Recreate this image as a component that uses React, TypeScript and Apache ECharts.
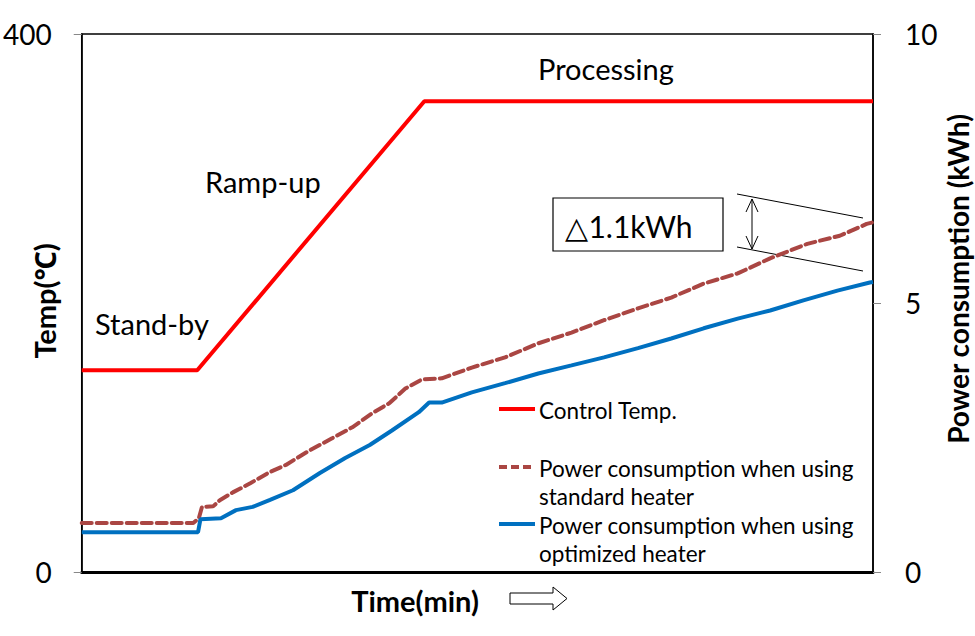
import React, { useEffect, useRef } from "react";
import * as echarts from "echarts";

// Control temperature (°C) vs time (arbitrary minutes, 0..100)
const tempTime = [0, 14.6, 43.3, 100];
const tempValues = [150, 150, 350, 350];

// Power consumption, standard heater (kWh)
const stdTime = [0, 14.1, 14.8, 15.2, 16.6, 17.5, 19.1, 21.3, 23.8, 25.8, 28.8, 31.7, 34.2, 36.7, 38.9, 40.9, 43.0, 45.5, 49.3, 53.5, 57.7, 61.9, 66.0, 70.3, 74.5, 78.6, 82.9, 87.0, 91.7, 95.8, 99.2, 100];
const stdPower = [0.91, 0.91, 1.0, 1.21, 1.22, 1.34, 1.48, 1.65, 1.86, 1.99, 2.26, 2.49, 2.69, 2.95, 3.14, 3.41, 3.58, 3.6, 3.8, 3.99, 4.25, 4.45, 4.68, 4.9, 5.1, 5.36, 5.55, 5.83, 6.1, 6.25, 6.47, 6.5];

// Power consumption, optimized heater (kWh)
const optTime = [0, 14.7, 15.0, 17.6, 19.5, 21.6, 23.8, 26.7, 30.1, 33.3, 36.4, 39.2, 42.6, 43.9, 45.5, 49.3, 53.5, 57.7, 61.9, 66.0, 70.3, 74.5, 78.6, 82.9, 87.0, 91.2, 95.5, 99.6, 100];
const optPower = [0.74, 0.74, 0.98, 1.0, 1.15, 1.21, 1.34, 1.52, 1.84, 2.12, 2.36, 2.63, 2.97, 3.15, 3.15, 3.34, 3.51, 3.69, 3.84, 3.99, 4.16, 4.34, 4.53, 4.71, 4.86, 5.05, 5.23, 5.38, 5.39];

const leftTicks = { min: 0, max: 400, interval: 400 };
const rightTicks = { min: 0, max: 10, interval: 5 };

const seriesNames = [
  "Control Temp.",
  "Power consumption when using\nstandard heater",
  "Power consumption when using\noptimized heater",
];
const phaseLabels = ["Stand-by", "Ramp-up", "Processing"];
const deltaLabel = "△1.1kWh";

const FONT = "Lato, 'Noto Sans', sans-serif";
const RED = "#FF0000";
const BROWN = "#AA4643";
const BLUE = "#0070C0";

function pairs(xs: number[], ys: number[]) {
  return xs.map((x, i) => [x, ys[i]]);
}

export default function App() {
  const ref = useRef<HTMLDivElement>(null);
  useEffect(() => {
    if (!ref.current) return;
    const chart = echarts.init(ref.current, undefined, { renderer: "svg" });
    const axisTick = { show: true, length: 8, lineStyle: { color: "#888", width: 1 } };
    const option: any = {
      animation: false,
      backgroundColor: "#fff",
      textStyle: { fontFamily: FONT },
      grid: {
        left: 79,
        right: 102,
        top: 34,
        bottom: 64,
        show: true,
        borderColor: "#000",
        borderWidth: 1.5,
      },
      xAxis: {
        type: "value",
        min: 0,
        max: 100,
        axisLine: { show: true, lineStyle: { color: "#000", width: 3 } },
        axisTick: { show: false },
        axisLabel: { show: false },
        splitLine: { show: false },
      },
      yAxis: [
        {
          type: "value",
          position: "left",
          ...leftTicks,
          axisLine: { show: true, lineStyle: { color: "#000", width: 1.5 } },
          axisTick,
          axisLabel: { fontSize: 28, color: "#000", margin: 30, fontFamily: FONT },
          splitLine: { show: false },
        },
        {
          type: "value",
          position: "right",
          ...rightTicks,
          axisLine: { show: true, lineStyle: { color: "#000", width: 1.5 } },
          axisTick,
          axisLabel: { fontSize: 28, color: "#000", margin: 32, fontFamily: FONT },
          splitLine: { show: false },
        },
      ],
      series: [
        {
          name: seriesNames[0],
          type: "line",
          yAxisIndex: 0,
          data: pairs(tempTime, tempValues),
          showSymbol: false,
          lineStyle: { color: RED, width: 4 },
        },
        {
          name: seriesNames[1],
          type: "line",
          yAxisIndex: 1,
          data: pairs(stdTime, stdPower),
          showSymbol: false,
          lineStyle: { color: BROWN, width: 4, type: [10, 5], cap: "round" },
        },
        {
          name: seriesNames[2],
          type: "line",
          yAxisIndex: 1,
          data: pairs(optTime, optPower),
          showSymbol: false,
          lineStyle: { color: BLUE, width: 4 },
        },
      ],
      graphic: [
        // phase labels
        { type: "text", x: 95, y: 323, style: { text: phaseLabels[0], font: `29px ${FONT}`, fill: "#000", textVerticalAlign: "middle" } },
        { type: "text", x: 205, y: 181, style: { text: phaseLabels[1], font: `29px ${FONT}`, fill: "#000", textVerticalAlign: "middle" } },
        { type: "text", x: 538, y: 68, style: { text: phaseLabels[2], font: `29px ${FONT}`, fill: "#000", textVerticalAlign: "middle" } },
        // delta box
        { type: "rect", shape: { x: 553, y: 198, width: 170, height: 53 }, style: { fill: "#fff", stroke: "#000", lineWidth: 1.2 } },
        { type: "text", x: 629, y: 226, style: { text: deltaLabel, font: `30px ${FONT}`, fill: "#000", textAlign: "center", textVerticalAlign: "middle" } },
        { type: "line", shape: { x1: 737, y1: 194, x2: 863, y2: 218 }, style: { stroke: "#000", lineWidth: 1 } },
        { type: "line", shape: { x1: 737, y1: 247, x2: 863, y2: 271 }, style: { stroke: "#000", lineWidth: 1 } },
        { type: "line", shape: { x1: 752, y1: 199, x2: 752, y2: 249 }, style: { stroke: "#000", lineWidth: 1 } },
        { type: "polyline", shape: { points: [[746, 212], [752, 199], [758, 212]] }, style: { stroke: "#000", lineWidth: 1, fill: null } },
        { type: "polyline", shape: { points: [[746, 236], [752, 249], [758, 236]] }, style: { stroke: "#000", lineWidth: 1, fill: null } },
        // legend
        { type: "line", shape: { x1: 499, y1: 409, x2: 535, y2: 409 }, style: { stroke: RED, lineWidth: 4 } },
        { type: "text", x: 539, y: 410, style: { text: seriesNames[0], font: `22.5px ${FONT}`, fill: "#000", textVerticalAlign: "middle" } },
        { type: "line", shape: { x1: 499, y1: 467, x2: 535, y2: 467 }, style: { stroke: BROWN, lineWidth: 4, lineDash: [8, 4] } },
        { type: "text", x: 539, y: 454, style: { text: seriesNames[1], font: `22.5px ${FONT}`, fill: "#000", lineHeight: 28, textVerticalAlign: "top" } },
        { type: "line", shape: { x1: 499, y1: 524, x2: 535, y2: 524 }, style: { stroke: BLUE, lineWidth: 4 } },
        { type: "text", x: 539, y: 511, style: { text: seriesNames[2], font: `22.5px ${FONT}`, fill: "#000", lineHeight: 28, textVerticalAlign: "top" } },
        // axis titles
        { type: "text", x: 44, y: 301, rotation: Math.PI / 2, style: { text: "Temp(℃)", font: `bold 29px ${FONT}`, fill: "#000", textAlign: "center", textVerticalAlign: "middle" } },
        { type: "text", x: 958, y: 279, rotation: Math.PI / 2, style: { text: "Power consumption (kWh)", font: `bold 28px ${FONT}`, fill: "#000", textAlign: "center", textVerticalAlign: "middle" } },
        { type: "text", x: 415, y: 600, style: { text: "Time(min)", font: `bold 29px ${FONT}`, fill: "#000", textAlign: "center", textVerticalAlign: "middle" } },
        {
          type: "polygon",
          shape: { points: [[510, 593], [553, 593], [553, 587], [567, 598.5], [553, 610], [553, 604], [510, 604]] },
          style: { fill: "#fff", stroke: "#000", lineWidth: 1 },
        },
      ],
    };
    chart.setOption(option);
    return () => chart.dispose();
  }, []);
  return <div ref={ref} style={{ position: "fixed", left: 0, top: 0, width: 975, height: 636 }} />;
}
